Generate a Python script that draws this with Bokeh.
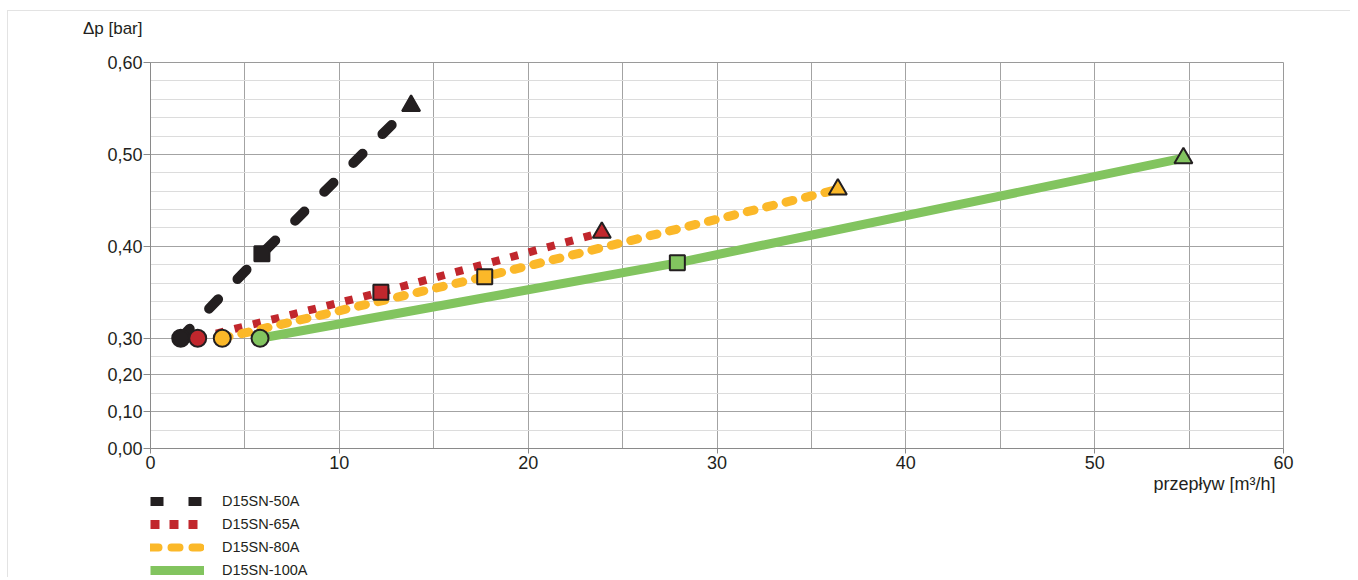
from bokeh.plotting import figure
from bokeh.models import (FixedTicker, Range1d, Legend, LegendItem, Title)
from bokeh.layouts import column
from bokeh.embed import file_html
from bokeh.resources import INLINE

# ---------------- data ----------------
series_names = ["D15SN-50A", "D15SN-65A", "D15SN-80A", "D15SN-100A"]
flow_50 = [1.6, 5.9, 13.8]
dp_50 = [0.300, 0.392, 0.553]
flow_65 = [2.5, 12.2, 23.9]
dp_65 = [0.300, 0.350, 0.415]
flow_80 = [3.8, 17.7, 36.4]
dp_80 = [0.300, 0.367, 0.462]
flow_100 = [5.8, 27.9, 54.7]
dp_100 = [0.300, 0.382, 0.496]

y_tick_values = [0.0, 0.1, 0.2, 0.3, 0.4, 0.5, 0.6]
y_tick_labels = ["0,00", "0,10", "0,20", "0,30", "0,40", "0,50", "0,60"]
x_tick_values = [0, 10, 20, 30, 40, 50, 60]

FONT = "Liberation Sans"
dark = "#231f20"


# piecewise axis: 0..0.3 compressed, 0.3..0.6 expanded
def ty(v):
    if v <= 0.3:
        return round(v * 4.0, 6)
    return round(1.2 + (v - 0.3) * 10.0, 6)


# ---------------- title strip (y-axis title, shown as a left label) ----------------
p0 = figure(frame_width=1133, frame_height=35, output_backend="svg", toolbar_location=None,
            x_range=Range1d(0, 1), y_range=Range1d(0, 35),
            x_axis_location=None,
            min_border_left=142, min_border_right=67, min_border_top=0, min_border_bottom=0)
p0.grid.visible = False
p0.outline_line_color = None
p0.yaxis.ticker = FixedTicker(ticks=[18], minor_ticks=[])
p0.yaxis.major_label_overrides = {18: "Δp [bar]"}
p0.yaxis.axis_line_color = None
p0.yaxis.major_tick_line_color = None
p0.yaxis.minor_tick_line_color = None
p0.yaxis.major_tick_in = 0
p0.yaxis.major_tick_out = 7
p0.yaxis.major_label_standoff = 1
p0.yaxis.major_label_text_font = FONT
p0.yaxis.major_label_text_font_size = "17px"
p0.yaxis.major_label_text_color = dark

# ---------------- main chart ----------------
p = figure(frame_width=1133, frame_height=386, output_backend="svg", toolbar_location=None,
           x_range=Range1d(0, 60), y_range=Range1d(0, ty(0.6)),
           min_border_left=142, min_border_right=67, min_border_top=16,
           min_border_bottom=20)
p.outline_line_color = "#9a9a9a"
p.background_fill_color = "white"

minor_lo = [0.05, 0.15, 0.25]
minor_hi = [round(0.3 + 0.02 * i, 3) for i in range(1, 15) if i % 5 != 0]
p.yaxis.ticker = FixedTicker(ticks=[ty(v) for v in y_tick_values],
                             minor_ticks=[ty(v) for v in minor_lo + minor_hi])
p.yaxis.major_label_overrides = {ty(v): lab for v, lab in zip(y_tick_values, y_tick_labels)}
p.xaxis.ticker = FixedTicker(ticks=x_tick_values, minor_ticks=[5, 15, 25, 35, 45, 55])

for ax in (p.xaxis, p.yaxis):
    ax.axis_line_color = "#8a8a8a"
    ax.major_tick_line_color = "#8a8a8a"
    ax.minor_tick_line_color = None
    ax.major_tick_in = 0
    ax.major_label_text_font = FONT
    ax.major_label_text_font_size = "18px"
    ax.major_label_text_color = dark
p.yaxis.major_tick_out = 7
p.xaxis.major_tick_out = 5
p.yaxis.major_label_standoff = 1
p.xaxis.major_label_standoff = 2

p.ygrid.grid_line_color = "#a3a3a3"
p.ygrid.minor_grid_line_color = "#dcdcdc"
p.xgrid.grid_line_color = "#a3a3a3"
p.xgrid.minor_grid_line_color = "#a3a3a3"

styles = [
    dict(color="#231f20", width=10, dash="13 28", cap="round"),
    dict(color="#c1272d", width=8, dash="8 11", cap="butt"),
    dict(color="#fbb829", width=9, dash="7 13", cap="round"),
    dict(color="#82c45f", width=9, dash="solid", cap="butt"),
]
data = [(flow_50, dp_50), (flow_65, dp_65), (flow_80, dp_80), (flow_100, dp_100)]

for (fx, fy), st in zip(data, styles):
    yy = [ty(v) for v in fy]
    p.line(fx, yy, line_color=st["color"], line_width=st["width"],
           line_dash=st["dash"], line_cap=st["cap"])

for i, ((fx, fy), st) in enumerate(zip(data, styles)):
    yy = [ty(v) for v in fy]
    lc = st["color"] if i == 0 else dark
    p.scatter([fx[0]], [yy[0]], marker="circle", size=17, fill_color=st["color"],
              line_color=lc, line_width=2)
    p.scatter([fx[1]], [yy[1]], marker="square", size=15, fill_color=st["color"],
              line_color=lc, line_width=2)
    p.scatter([fx[2]], [yy[2]], marker="triangle", size=18, fill_color=st["color"],
              line_color=lc, line_width=2)

# x-axis title (right, below tick labels)
p.add_layout(Title(text="przepływ [m³/h]", align="right", offset=8, standoff=0,
                   text_font=FONT, text_font_size="18px", text_font_style="normal",
                   text_color=dark), "below")

# ---------------- legend strip ----------------
p2 = figure(frame_width=1133, frame_height=84, output_backend="svg", toolbar_location=None,
            x_range=Range1d(0, 1), y_range=Range1d(0, 1),
            x_axis_location=None, y_axis_location=None,
            min_border_left=142, min_border_right=67, min_border_top=0,
            min_border_bottom=0)
p2.grid.visible = False
p2.outline_line_color = None

leg_styles = [
    dict(color="#231f20", width=9, dash="13 25", cap="butt"),
    dict(color="#c1272d", width=9, dash="9 10", cap="butt"),
    dict(color="#fbb829", width=8, dash="8 13", cap="round"),
    dict(color="#82c45f", width=9, dash="solid", cap="butt"),
]
items = []
for st, name in zip(leg_styles, series_names):
    # legend-only renderers, kept outside the visible range
    r = p2.line([5, 6], [5, 6], line_color=st["color"], line_width=st["width"],
                line_dash=st["dash"], line_cap=st["cap"])
    items.append(LegendItem(label=name, renderers=[r]))

legend = Legend(items=items, location="top_left", orientation="vertical",
                glyph_width=54, glyph_height=16, label_height=16, spacing=7,
                label_standoff=18, padding=0, margin=0,
                border_line_color=None, background_fill_alpha=0,
                label_text_font=FONT, label_text_font_size="14.5px",
                label_text_color=dark)
p2.add_layout(legend)

layout = column(p0, p, p2, spacing=0,
                styles={"border-top": "1px solid #e3e3e3", "border-left": "1px solid #e3e3e3",
                        "margin-top": "10px", "margin-left": "7px"})

open("out.html", "w").write(file_html(layout, INLINE))
